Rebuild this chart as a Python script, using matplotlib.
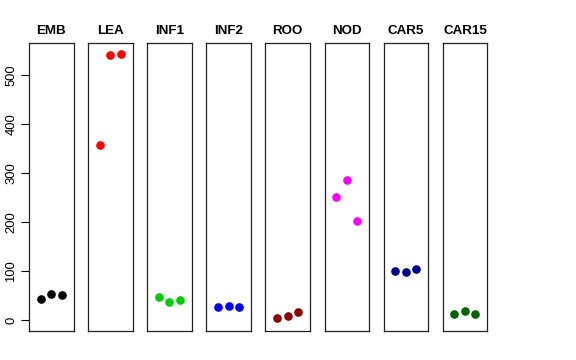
import matplotlib
matplotlib.use("Agg")
import matplotlib.pyplot as plt

plt.rcParams['font.family'] = ['Liberation Sans', 'DejaVu Sans']

tissues = ["EMB", "LEA", "INF1", "INF2", "ROO", "NOD", "CAR5", "CAR15"]
colors = ["black", "red", "#00cd00", "blue", "#8b0000", "magenta", "#00008b", "#006400"]
values = [
    [43, 53, 52],
    [357, 541, 544],
    [47, 37, 41],
    [26, 29, 26],
    [5, 9, 16],
    [251, 286, 202],
    [101, 98, 105],
    [12, 18, 12],
]
reps = [1, 2, 3]
yticks = [0, 100, 200, 300, 400, 500]

W, H = 576, 360
fig = plt.figure(figsize=(W / 100, H / 100), dpi=100)

top, bottom = 43, 331
x0 = 29
pw = 44.5
step = 59.1

for i, (name, col, vals) in enumerate(zip(tissues, colors, values)):
    left = x0 + i * step
    ax = fig.add_axes([left / W, (H - bottom) / H, pw / W, (bottom - top) / H])
    ax.plot(reps, vals, "o", color=col, ms=5.2, mec=col)
    ax.set_xlim(-0.12, 4.12)
    ax.set_ylim(-22, 566)
    ax.set_xticks([])
    for s in ax.spines.values():
        s.set_linewidth(0.9)
        s.set_color("#222222")
    ax.set_title(name, fontsize=9.6, fontweight="bold", pad=6.5)
    if i == 0:
        ax.set_yticks(yticks)
        ax.set_yticklabels([str(t) for t in yticks], rotation=90, va="center", fontsize=9.4)
        ax.tick_params(axis="y", length=6, width=0.8, pad=2.5)
    else:
        ax.set_yticks([])

fig.savefig("out.png", dpi=100)
